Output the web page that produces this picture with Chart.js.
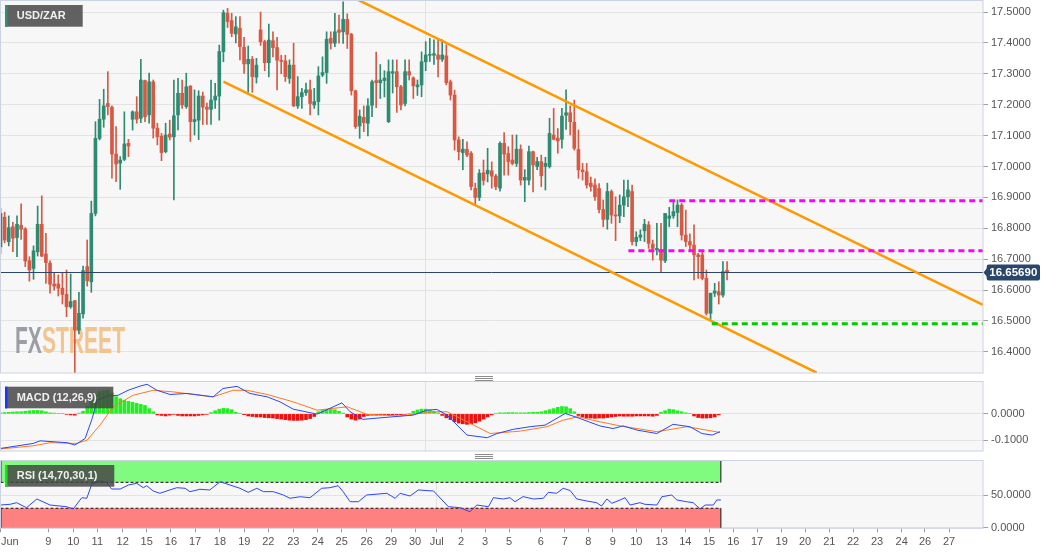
<!DOCTYPE html>
<html>
<head>
<meta charset="utf-8">
<title>USD/ZAR</title>
<script src="https://cdn.jsdelivr.net/npm/chart.js@4.4.1/dist/chart.umd.min.js"></script>
<style>
  html, body { margin: 0; padding: 0; background: #fff; }
  #wrap { position: relative; width: 1060px; height: 555px; overflow: hidden; }
  canvas { position: absolute; left: 0; }
</style>
</head>
<body>
<div id="wrap">
  <canvas id="main" style="top:0" width="1060" height="376"></canvas>
  <canvas id="macd" style="top:376px" width="1060" height="78"></canvas>
  <canvas id="rsi" style="top:454px" width="1060" height="101"></canvas>
</div>
<script>
// x axis: one unit = one 4h candle
const tickLabels = ['Jun','9','10','11','12','15','16','17','18','19','22','23','24','25','26','29','30','Jul','2','3','5',
  '6','7','8','9','10','13','14','15','16','17','19','20','21','22','23','24','26','27',''];
const tickPos = [0.12,11.58,17.64,23.45,29.6,35.42,41.3,47.12,53.17,59.06,64.87,70.93,76.84,82.66,88.71,94.6,100.41,105.67,111.56,117.37,123.18,
  130.86,136.68,142.4,148.3,154.02,160.17,165.89,171.63,177.52,183.26,189.24,194.89,200.78,206.52,212.33,218.3,223.95,229.77,238];

// candles
const opens = [16.740,16.836,16.757,16.805,16.770,16.810,16.798,16.695,16.670,16.724,
16.813,16.717,16.687,16.620,16.620,16.606,16.586,16.546,16.566,16.471,
16.523,16.676,16.627,16.848,17.091,17.153,17.204,17.192,17.040,17.011,
17.023,17.075,17.153,17.177,17.156,17.278,17.167,17.274,17.124,17.098,
17.048,17.105,17.096,17.167,17.237,17.194,17.260,17.145,17.150,17.228,
17.192,17.185,17.215,17.228,17.372,17.496,17.472,17.429,17.447,17.386,
17.332,17.347,17.289,17.442,17.404,17.336,17.407,17.385,17.344,17.342,
17.285,17.328,17.196,17.226,17.239,17.248,17.199,17.210,17.296,17.304,
17.415,17.399,17.442,17.436,17.476,17.428,17.245,17.131,17.159,17.140,
17.198,17.278,17.271,17.278,17.145,17.302,17.307,17.258,17.204,17.307,
17.287,17.258,17.264,17.339,17.360,17.360,17.361,17.347,17.358,17.274,
17.231,17.086,17.045,17.056,17.043,16.929,16.900,16.980,16.976,16.986,
16.969,16.930,17.075,17.042,17.021,17.010,17.056,16.956,16.956,17.048,
17.000,17.016,17.000,17.000,17.102,17.092,17.088,17.166,17.174,17.143,
17.055,16.989,16.983,16.946,16.940,16.929,16.861,16.829,16.919,16.843,
16.840,16.875,16.902,16.919,16.757,16.771,16.792,16.811,16.749,16.730,
16.730,16.695,16.832,16.840,16.851,16.875,16.778,16.757,16.746,16.714,
16.714,16.638,16.525,16.590,16.595,16.584,16.664];
const highs = [16.865,16.852,16.840,16.819,16.840,16.879,16.802,16.708,16.743,16.872,
16.905,16.784,16.695,16.654,16.649,16.656,16.665,16.652,16.566,16.593,
16.678,16.762,16.888,17.145,17.217,17.250,17.307,17.196,17.129,17.032,
17.177,17.088,17.180,17.226,17.347,17.280,17.302,17.280,17.140,17.107,
17.140,17.150,17.280,17.285,17.280,17.302,17.262,17.248,17.245,17.241,
17.205,17.280,17.269,17.393,17.506,17.512,17.496,17.485,17.485,17.418,
17.390,17.356,17.350,17.500,17.409,17.461,17.436,17.418,17.360,17.360,
17.345,17.399,17.291,17.253,17.270,17.280,17.253,17.323,17.355,17.436,
17.436,17.496,17.490,17.533,17.494,17.431,17.247,17.183,17.196,17.220,
17.280,17.370,17.330,17.310,17.345,17.345,17.345,17.263,17.345,17.345,
17.290,17.280,17.371,17.404,17.415,17.410,17.415,17.410,17.394,17.280,
17.247,17.096,17.088,17.080,17.048,16.946,16.990,17.021,17.059,17.015,
16.975,17.080,17.110,17.064,17.102,17.102,17.070,16.990,17.066,17.050,
17.030,17.037,17.030,17.156,17.188,17.123,17.188,17.248,17.196,17.215,
17.118,17.010,17.010,16.966,16.960,16.945,16.892,16.946,16.924,16.902,
16.908,16.956,16.956,16.940,16.789,16.795,16.829,16.822,16.762,16.816,
16.816,16.848,16.868,16.889,16.892,16.881,16.859,16.782,16.811,16.719,
16.724,16.665,16.590,16.622,16.627,16.692,16.692];
const lows = [16.717,16.753,16.743,16.724,16.708,16.764,16.676,16.629,16.635,16.710,
16.708,16.622,16.590,16.600,16.581,16.555,16.514,16.541,16.333,16.458,
16.509,16.613,16.593,16.840,17.086,17.127,17.167,16.962,16.951,16.926,
17.019,17.032,17.118,17.140,17.142,17.145,17.140,17.092,17.070,17.019,
17.044,17.086,16.892,17.118,17.188,17.188,17.081,17.102,17.087,17.136,
17.136,17.136,17.188,17.150,17.339,17.450,17.420,17.400,17.345,17.301,
17.240,17.240,17.270,17.392,17.310,17.290,17.355,17.248,17.300,17.275,
17.269,17.194,17.188,17.188,17.230,17.167,17.188,17.167,17.291,17.269,
17.380,17.388,17.399,17.398,17.382,17.231,17.123,17.091,17.113,17.099,
17.161,17.190,17.220,17.225,17.142,17.238,17.175,17.183,17.196,17.280,
17.220,17.230,17.226,17.310,17.340,17.330,17.290,17.340,17.264,17.215,
17.053,17.021,16.990,17.032,16.924,16.876,16.890,16.940,16.950,16.930,
16.925,16.920,16.972,16.972,17.005,17.000,16.940,16.886,16.940,16.918,
16.990,16.935,16.924,16.995,17.086,17.043,17.059,17.120,17.102,17.053,
16.962,16.956,16.930,16.920,16.890,16.850,16.805,16.797,16.816,16.760,
16.818,16.838,16.870,16.746,16.743,16.760,16.757,16.735,16.697,16.714,
16.660,16.689,16.805,16.832,16.805,16.762,16.741,16.724,16.633,16.638,
16.633,16.519,16.503,16.579,16.555,16.577,16.633];
const closes = [16.848,16.762,16.802,16.768,16.813,16.797,16.694,16.665,16.727,16.813,
16.710,16.689,16.619,16.613,16.606,16.586,16.546,16.563,16.471,16.525,
16.663,16.630,16.848,17.091,17.153,17.196,17.194,17.040,17.008,17.021,
17.073,17.066,17.177,17.153,17.280,17.161,17.274,17.124,17.096,17.045,
17.102,17.095,17.164,17.237,17.199,17.258,17.145,17.152,17.228,17.192,
17.185,17.215,17.228,17.372,17.498,17.469,17.431,17.452,17.388,17.332,
17.347,17.291,17.328,17.404,17.336,17.409,17.385,17.344,17.340,17.291,
17.328,17.196,17.226,17.239,17.248,17.204,17.210,17.293,17.304,17.412,
17.399,17.436,17.434,17.476,17.428,17.245,17.129,17.163,17.142,17.196,
17.274,17.271,17.280,17.286,17.307,17.307,17.258,17.199,17.307,17.296,
17.261,17.264,17.339,17.361,17.363,17.365,17.347,17.361,17.271,17.231,
17.086,17.048,17.056,17.037,16.935,16.900,16.978,16.955,16.988,16.969,
16.935,17.075,17.040,17.016,17.010,17.056,16.956,16.965,17.048,17.005,
17.016,16.970,17.010,17.107,17.088,17.083,17.163,17.174,17.145,17.059,
16.989,16.983,16.940,16.935,16.902,16.861,16.829,16.919,16.843,16.840,
16.875,16.902,16.924,16.757,16.771,16.778,16.813,16.751,16.735,16.735,
16.697,16.848,16.840,16.854,16.875,16.778,16.757,16.746,16.714,16.708,
16.638,16.525,16.590,16.597,16.584,16.660,16.6569];
const lastPrice = 16.6569;
const priceTicks = [16.4,16.5,16.6,16.7,16.8,16.9,17.0,17.1,17.2,17.3,17.4,17.5];

// drawn lines (channel and levels)
const upperTrendX = [86.5, 238], upperTrendY = [17.54, 16.552];
const lowerTrendX = [54.0, 197.7], lowerTrendY = [17.2744, 16.3327];
const resistLevels = [16.889, 16.7275], resistFrom = [162.0, 152.1];
const supportLevels = [16.491], supportFrom = [172.3];

// MACD (12,26,9)
const macdAt = [0,7.9,9.6,16.1,18.0,20.5,22.2,23.4,25.8,28.5,30.9,33.8,35.5,37.9,41.1,45.2,51.5,53.9,57.3,60.4,64.6,67.7,70.9,76.7,79.8,82.7,84.7,87.8,95.1,99.9,103.3,105.7,108.2,113.0,117.9,120.3,124.2,125.9,128.3,131.9,136.8,139.9,145.2,148.4,150.8,154.2,159.0,162.9,167.0,169.9,172.4,174.3];
const macdVal = [-0.132,-0.113,-0.103,-0.110,-0.119,-0.094,-0.018,0.052,0.068,0.071,0.090,0.106,0.113,0.090,0.074,0.078,0.065,0.097,0.105,0.078,0.065,0.046,0.018,-0.001,0.021,0.042,0.008,-0.021,-0.011,-0.005,0.014,0.017,-0.005,-0.081,-0.091,-0.075,-0.059,-0.055,-0.049,-0.043,0.0015,-0.015,-0.046,-0.056,-0.046,-0.062,-0.075,-0.040,-0.049,-0.075,-0.081,-0.068];
const signalAt = [0,7.9,12,18.5,21,24.1,27.3,32.1,37,41.8,48.3,51.5,56.3,59.7,64.6,70.9,76.7,80.6,84,88.8,96.8,104.8,108.2,113,118.6,124.2,125.9,132.4,136.3,139.9,144.5,150.1,159,166.3,174.3];
const signalVal = [-0.134,-0.122,-0.110,-0.113,-0.100,-0.043,0.027,0.071,0.090,0.084,0.071,0.065,0.090,0.090,0.074,0.046,0.014,0.021,0.027,-0.002,-0.008,0.008,0.008,-0.030,-0.075,-0.068,-0.066,-0.049,-0.024,-0.011,-0.028,-0.046,-0.068,-0.049,-0.071];
const macdHist = [0.004,0.005,0.006,0.007,0.008,0.008,0.010,0.012,0.013,0.013,
0.012,0.008,0.004,0.003,0.002,0.002,-0.002,-0.004,-0.005,0.003,
0.010,0.030,0.055,0.075,0.085,0.088,0.090,0.080,0.066,0.058,
0.052,0.048,0.044,0.040,0.036,0.032,0.020,0.008,-0.004,-0.006,
-0.008,-0.005,-0.002,-0.006,-0.008,-0.008,-0.008,-0.008,-0.006,-0.004,
-0.002,0.005,0.012,0.018,0.021,0.020,0.016,0.006,0.002,-0.003,
-0.008,-0.010,-0.012,-0.012,-0.014,-0.015,-0.016,-0.018,-0.020,-0.022,
-0.024,-0.025,-0.025,-0.024,-0.022,-0.018,-0.010,0.008,0.013,0.016,
0.017,0.016,0.010,0.003,-0.012,-0.020,-0.024,-0.020,-0.010,-0.006,
-0.005,-0.005,-0.004,-0.004,-0.005,-0.004,-0.003,-0.003,-0.002,0.002,
0.010,0.015,0.018,0.018,0.015,0.010,0.004,-0.006,-0.015,-0.022,
-0.030,-0.035,-0.038,-0.040,-0.038,-0.034,-0.028,-0.020,-0.012,-0.004,
0.002,0.004,0.004,0.005,0.005,0.004,0.004,0.004,0.005,0.006,
0.006,0.008,0.012,0.016,0.020,0.025,0.028,0.027,0.020,0.008,
-0.006,-0.012,-0.015,-0.016,-0.017,-0.016,-0.016,-0.014,-0.012,-0.010,
-0.008,-0.009,-0.009,-0.009,-0.008,-0.008,-0.008,-0.008,-0.009,-0.006,
0.006,0.012,0.018,0.016,0.012,0.008,0.004,0.002,-0.008,-0.014,
-0.016,-0.016,-0.015,-0.012,-0.004];
const macdTicks = [-0.1, 0];

// RSI (14,70,30,1)
const rsiAt = [0,2.3,3.9,6.3,8.8,12,16,17.6,19.7,20.9,22.1,24.1,25.7,26.9,29,31,33,34.6,35.4,37,38.6,41,42.7,44.7,45.9,48.3,50.7,53.2,55.6,58,60,62.1,63.7,66.1,68.5,70.1,72.6,75,77.8,79.8,81.8,83,84.7,86.7,88.7,93.6,95.6,96.8,99.2,101.2,104.9,108.5,111.3,113.7,115.4,118.2,119.4,121.8,123.4,124.6,126.6,129.1,131.5,132.7,134.7,136.3,138,139.6,142,144.4,145.6,146.9,148.1,150.1,151.3,152.5,154.9,156.1,159,160.2,162.6,163.8,166.2,167.8,169.5,170.7,172.7,173.5,174.5];
const rsiVal = [35.0,36.1,38.6,30.9,44.3,35.0,32.4,28.9,46.3,45.4,67.0,72.1,70.1,59.7,59.7,65.9,68.5,61.7,64.8,56.6,53.1,58.2,61.7,60.8,55.6,59.3,58.2,71.0,65.9,60.8,54.6,60.8,55.6,55.6,50.5,45.4,47.8,46.3,60.8,61.7,64.8,55.6,40.1,40.1,50.5,53.1,45.4,53.1,48.9,58.2,56.6,32.4,30.9,24.7,35.0,32.4,46.3,44.3,46.3,40.1,48.0,44.3,45.4,54.6,53.1,60.8,57.4,44.3,41.2,38.6,33.5,44.3,37.7,42.8,46.3,35.0,38.6,36.1,35.0,47.8,50.5,42.8,40.1,38.6,28.9,35.0,35.0,42.8,42.8];
const rsiBands = [70, 30];
const rsiBandEnd = 174.5;
const rsiTicks = [0, 50];

// ---------------------------------------------------------------
const X_MIN = -0.12, X_MAX = 238;
const GREEN = '#2e8a70', RED = '#d75843';
const FONT = '"Liberation Sans", Arial, sans-serif';
const julPos = tickPos[tickLabels.indexOf('Jul')];

Chart.defaults.font.family = FONT;

function xScale(withLabels) {
  return {
    type: 'linear', min: X_MIN, max: X_MAX, offset: false,
    afterBuildTicks: s => { s.ticks = tickPos.map(v => ({ value: v })); },
    grid: {
      color: c => (c.tick && c.tick.value === julPos) ? '#e2e2e2' : 'rgba(0,0,0,0)',
      drawTicks: withLabels, tickLength: 4,
      tickColor: c => (c.index === tickPos.length - 1) ? 'rgba(0,0,0,0)' : '#9a9a9a'
    },
    border: { display: false },
    ticks: {
      display: withLabels, autoSkip: false, maxRotation: 0, minRotation: 0, padding: 3,
      align: 'inner', color: '#555', font: { size: 11 },
      callback: (v, i) => tickLabels[i]
    },
    afterFit: s => { s.paddingLeft = 0; s.paddingRight = 0; s.height = withLabels ? 26.7 : 0; }
  };
}

function yScale(min, max, ticks, fmt) {
  return {
    position: 'right', min, max,
    afterBuildTicks: s => { s.ticks = ticks.map(v => ({ value: v })); },
    grid: { color: '#e3e3e3', tickLength: 5, tickColor: '#a0a0a0' },
    border: { display: false },
    ticks: { color: '#555', font: { size: 11 }, padding: 3, callback: fmt },
    afterFit: s => { s.width = 77; s.paddingTop = 0; s.paddingBottom = 0; }
  };
}

function seg(xs, ys, color, width, dash, order) {
  return {
    type: 'line', data: xs.map((x, i) => ({ x, y: ys[i] })),
    borderColor: color, borderWidth: width, borderDash: dash || [],
    pointRadius: 0, fill: false, tension: 0, order, clip: 0
  };
}

function drawTag(ctx, x, y, w, h, stripe, text) {
  ctx.save();
  ctx.fillStyle = 'rgba(68,68,68,0.84)';
  ctx.fillRect(x, y, w, h);
  ctx.fillStyle = stripe;
  ctx.fillRect(x, y, 2.5, h);
  ctx.fillStyle = '#f0f0f0';
  ctx.font = 'bold 11px ' + FONT;
  ctx.textBaseline = 'middle';
  ctx.fillText(text, x + 11.7, y + h / 2 + 0.5);
  ctx.restore();
}

function drawHandle(ctx, cx, y) {
  ctx.save();
  ctx.strokeStyle = '#8c8c8c';
  ctx.lineWidth = 1;
  for (let k = 0; k < 3; k++) {
    ctx.beginPath();
    ctx.moveTo(cx - 9, y + 2 * k + 0.5);
    ctx.lineTo(cx + 9, y + 2 * k + 0.5);
    ctx.stroke();
  }
  ctx.restore();
}

const panel = {
  id: 'panel',
  beforeDraw(chart) {
    const { ctx, chartArea: a } = chart;
    ctx.save();
    ctx.fillStyle = '#f7f7f7';
    ctx.fillRect(a.left, a.top, a.right - a.left, a.bottom - a.top);
    ctx.restore();
  },
  afterDraw(chart) {
    const { ctx, chartArea: a } = chart;
    ctx.save();
    ctx.strokeStyle = '#cdd2e4';
    ctx.lineWidth = 1;
    ctx.strokeRect(a.left + 0.5, a.top - 0.5, a.right - a.left - 0.5, a.bottom - a.top + 0.5);
    ctx.restore();
  }
};

function baseOptions(xs, ys, pad) {
  return {
    responsive: false, animation: false, devicePixelRatio: 1, events: [],
    layout: { padding: pad },
    plugins: { legend: { display: false }, tooltip: { enabled: false } },
    scales: { x: xs, y: ys }
  };
}

// ---------------- main price panel ----------------
const candleColors = closes.map((c, i) => c >= opens[i] ? GREEN : RED);
const mainSets = [
  { type: 'bar', data: lows.map((l, i) => ({ x: i, y: [l, highs[i]] })), backgroundColor: candleColors,
    barThickness: 1, grouped: false, order: 9 },
  { type: 'bar', data: opens.map((o, i) => ({ x: i, y: [o, closes[i]] })), backgroundColor: candleColors,
    barThickness: 3, minBarLength: 1, grouped: false, order: 8 },
  seg([X_MIN, X_MAX], [lastPrice, lastPrice], '#2b466b', 1, null, 5),
  seg(upperTrendX, upperTrendY, '#ff9900', 2.5, null, 2),
  seg(lowerTrendX, lowerTrendY, '#ff9900', 2.5, null, 2)
];
resistLevels.forEach((lv, i) => mainSets.push(seg([resistFrom[i], X_MAX], [lv, lv], '#ff00ff', 3, [6, 4], 1)));
supportLevels.forEach((lv, i) => mainSets.push(seg([supportFrom[i], X_MAX], [lv, lv], '#00cc00', 3, [6, 4], 1)));

const mainDecor = {
  id: 'mainDecor',
  beforeDatasetsDraw(chart) {
    const { ctx, chartArea: a } = chart;
    ctx.save();
    ctx.font = 'bold 37px "Liberation Sans Narrow", "Liberation Sans", sans-serif';
    ctx.textBaseline = 'alphabetic';
    const w1 = ctx.measureText('FX').width, w2 = ctx.measureText('STREET').width;
    const k = 110 / (w1 + w2);
    ctx.translate(a.left + 15, a.bottom - 20);
    ctx.scale(k, 1);
    ctx.fillStyle = 'rgba(150,153,162,0.95)';
    ctx.fillText('FX', 0, 0);
    ctx.fillStyle = 'rgba(241,193,136,0.95)';
    ctx.fillText('STREET', w1, 0);
    ctx.restore();
  },
  afterDraw(chart) {
    const { ctx, chartArea: a } = chart;
    drawTag(ctx, a.left + 5, a.top + 4, 77.7, 21.7, '#2f8f75', 'USD/ZAR');
    const y = chart.scales.y.getPixelForValue(lastPrice);
    const x = a.right;
    ctx.save();
    ctx.fillStyle = '#2b466b';
    ctx.beginPath();
    ctx.moveTo(x + 0.5, y);
    ctx.lineTo(x + 4.5, y - 5);
    ctx.lineTo(x + 4.5, y + 5);
    ctx.closePath();
    ctx.fill();
    ctx.beginPath();
    ctx.roundRect(x + 3.7, y - 8, 53.3, 16, 2);
    ctx.fill();
    ctx.fillStyle = '#ffffff';
    ctx.font = 'bold 11.5px ' + FONT;
    ctx.textAlign = 'center';
    ctx.textBaseline = 'middle';
    ctx.fillText(lastPrice.toFixed(5), x + 30.3, y + 0.5);
    ctx.restore();
  }
};

new Chart(document.getElementById('main'), {
  type: 'line',
  data: { datasets: mainSets },
  options: baseOptions(xScale(false), yScale(16.3317, 17.5356, priceTicks, v => v.toFixed(4)),
    { top: 1, left: 0, right: 0, bottom: 3 }),
  plugins: [panel, mainDecor]
});

// ---------------- MACD panel ----------------
const macdDecor = {
  id: 'macdDecor',
  afterDraw(chart) {
    const { ctx, chartArea: a } = chart;
    drawHandle(ctx, 484, a.top - 6);
    drawTag(ctx, a.left + 5, a.top + 4.7, 108.3, 21.6, '#1438ff', 'MACD (12,26,9)');
  }
};

new Chart(document.getElementById('macd'), {
  type: 'line',
  data: { datasets: [
    { type: 'bar', data: macdHist.map((v, i) => ({ x: i, y: v })),
      backgroundColor: macdHist.map(v => v >= 0 ? '#22ee22' : '#ee1111'),
      barThickness: 3, grouped: false, order: 5 },
    seg(signalAt, signalVal, '#ff7a1f', 1, null, 2),
    seg(macdAt, macdVal, '#2a46ff', 1, null, 1)
  ] },
  options: baseOptions(xScale(false), yScale(-0.1418, 0.1217, macdTicks, v => v.toFixed(4)),
    { top: 6, left: 0, right: 0, bottom: 3 }),
  plugins: [panel, macdDecor]
});

// ---------------- RSI panel ----------------
const rsiMax = 102.9, rsiMin = -0.9;
const rsiDecor = {
  id: 'rsiDecor',
  afterDraw(chart) {
    const { ctx, chartArea: a } = chart;
    drawHandle(ctx, 484, a.top - 7);
    drawTag(ctx, a.left + 5, a.top + 4, 109.3, 21.7, '#22dd22', 'RSI (14,70,30,1)');
  }
};
const edge = (xv, y0, y1) => seg([xv, xv], [y0, y1], '#111', 1, null, 3);

new Chart(document.getElementById('rsi'), {
  type: 'line',
  data: { datasets: [
    { type: 'line', data: [{ x: 0, y: rsiBands[0] }, { x: rsiBandEnd, y: rsiBands[0] }],
      borderColor: '#111', borderWidth: 1, borderDash: [3, 2], pointRadius: 0,
      fill: 'end', backgroundColor: '#80fb80', order: 6, clip: 0 },
    { type: 'line', data: [{ x: 0, y: rsiBands[1] }, { x: rsiBandEnd, y: rsiBands[1] }],
      borderColor: '#111', borderWidth: 1, borderDash: [3, 2], pointRadius: 0,
      fill: 'start', backgroundColor: '#ff8080', order: 6, clip: 0 },
    edge(0.1, rsiBands[0], rsiMax), edge(rsiBandEnd, rsiBands[0], rsiMax),
    edge(0.1, rsiMin, rsiBands[1]), edge(rsiBandEnd, rsiMin, rsiBands[1]),
    seg(rsiAt, rsiVal, '#2a46ff', 1, null, 1)
  ] },
  options: baseOptions(xScale(true), yScale(rsiMin, rsiMax, rsiTicks, v => v.toFixed(4)),
    { top: 7, left: 0, right: 0, bottom: 0 }),
  plugins: [panel, rsiDecor]
});
</script>
</body>
</html>
